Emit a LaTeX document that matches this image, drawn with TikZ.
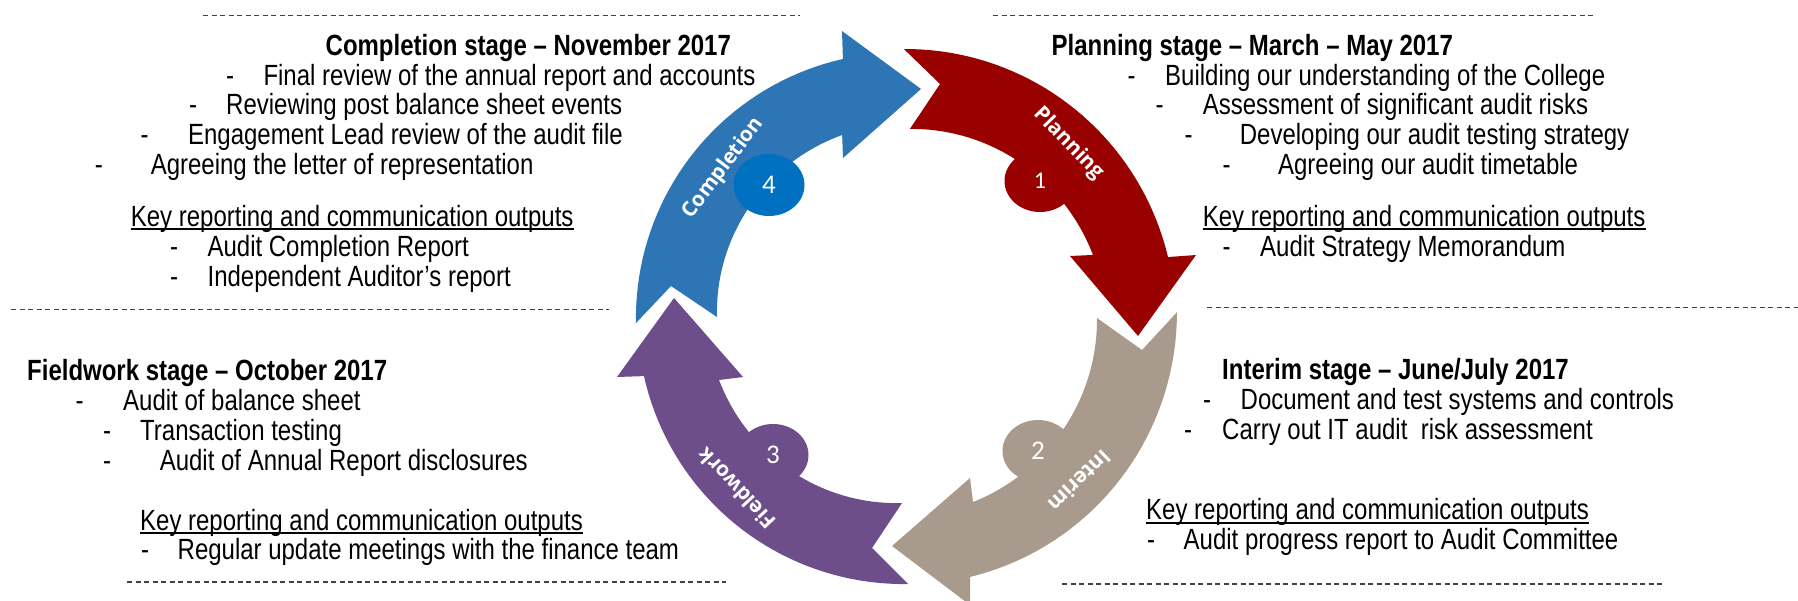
\documentclass[tikz,border=0pt]{standalone}
\usepackage{fontspec}
\usetikzlibrary{shapes.geometric}
\newfontfamily\nar{Liberation Sans}[FakeStretch=0.82]
\newfontfamily\lblf{Open Sans}
\newfontfamily\numf{Carlito}
\definecolor{cblue}{HTML}{2E75B6}
\definecolor{cred}{HTML}{990000}
\definecolor{cgray}{HTML}{A89B8D}
\definecolor{cpurp}{HTML}{6D4E8B}
\definecolor{cnum}{HTML}{0070C0}
% ring edge: from angle #1 (radius #2) to angle #3 (radius #4), centre (902,317) in screen px
\newcommand\ringedge[4]{-- plot[domain=#1:#3,samples=40,variable=\tval] ({902+((#2)+(\tval-(#1))/((#3)-(#1))*((#4)-(#2)))*cos(\tval)},{317-((#2)+(\tval-(#1))/((#3)-(#1))*((#4)-(#2)))*sin(\tval)})}
\tikzset{
  txt/.style={anchor=base west, inner sep=0pt, font=\nar\fontsize{29.25}{30}\selectfont},
  hd/.style={anchor=base west, inner sep=0pt, font=\nar\bfseries\fontsize{29.25}{30}\selectfont},
  sep/.style={draw=black!75, line width=1.2pt, dash pattern=on 5pt off 3.5pt},
  uline/.style={line width=1.8pt},
  lbl/.style={inner sep=0pt, text=white, font=\lblf\bfseries\fontsize{20.8}{21}\selectfont},
  numc/.style={ellipse, inner sep=0pt, minimum width=71pt, minimum height=62pt, text=white, font=\numf\fontsize{27}{27}\selectfont},
}
\begin{document}
\begin{tikzpicture}[x=1pt,y=-1pt]
\useasboundingbox (0,0) rectangle (1798,600);
\fill[white] (0,0) rectangle (1798,600);

% separators
\draw[sep] (203,15.5) -- (799.6,15.5);
\draw[sep] (993,15.5) -- (1593,15.5);
\draw[sep] (11,309.5) -- (609,309.5);
\draw[sep] (1207,307.5) -- (1798,307.5);
\draw[sep] (127,582) -- (726,582);
\draw[sep] (1062,584) -- (1663,584);

% Completion block
\node[hd] (ch) at (325.5,55) {Completion stage – November 2017};
\node[txt] (cd1) at (226,85) {-};
\node[txt] (ct1) at (263.3,85) {Final review of the annual report and accounts};
\node[txt] (cd2) at (188.8,114.5) {-};
\node[txt] (ct2) at (226,114.5) {Reviewing post balance sheet events};
\node[txt] (cd3) at (140.3,144.5) {-};
\node[txt] (ct3) at (187.9,144.5) {Engagement Lead review of the audit file};
\node[txt] (cd4) at (94.7,174) {-};
\node[txt] (ct4) at (150.6,174) {Agreeing the letter of representation};
\node[txt] (ck) at (130.7,226) {Key reporting and communication outputs};
\draw[uline] ([yshift=-3.2pt]ck.base west) -- ([yshift=-3.2pt]ck.base east);
\node[txt] (cd5) at (170,256) {-};
\node[txt] (ct5) at (207.4,256) {Audit Completion Report};
\node[txt] (cd6) at (170,286) {-};
\node[txt] (ct6) at (207.4,286) {Independent Auditor’s report};

% Planning block
\node[hd] (ph) at (1051.5,55) {Planning stage – March – May 2017};
\node[txt] (pd1) at (1127.3,85) {-};
\node[txt] (pt1) at (1165,85) {Building our understanding of the College};
\node[txt] (pd2) at (1155.3,114.5) {-};
\node[txt] (pt2) at (1202.6,114.5) {Assessment of significant audit risks};
\node[txt] (pd3) at (1184.3,144.5) {-};
\node[txt] (pt3) at (1239.7,144.5) {Developing our audit testing strategy};
\node[txt] (pd4) at (1222.5,174) {-};
\node[txt] (pt4) at (1277.9,174) {Agreeing our audit timetable};
\node[txt] (pk) at (1202.6,226) {Key reporting and communication outputs};
\draw[uline] ([yshift=-3.2pt]pk.base west) -- ([yshift=-3.2pt]pk.base east);
\node[txt] (pd5) at (1222.5,256) {-};
\node[txt] (pt5) at (1260,256) {Audit Strategy Memorandum};

% Fieldwork block
\node[hd] (fh) at (27,380.5) {Fieldwork stage – October 2017};
\node[txt] (fd1) at (75.5,410) {-};
\node[txt] (ft1) at (123,410) {Audit of balance sheet};
\node[txt] (fd2) at (103,440) {-};
\node[txt] (ft2) at (140,440) {Transaction testing};
\node[txt] (fd3) at (103,470) {-};
\node[txt] (ft3) at (159.6,470) {Audit of Annual Report disclosures};
\node[txt] (fk) at (140,530) {Key reporting and communication outputs};
\draw[uline] ([yshift=-3.2pt]fk.base west) -- ([yshift=-3.2pt]fk.base east);
\node[txt] (fd4) at (141,559.5) {-};
\node[txt] (ft4) at (177.5,559.5) {Regular update meetings with the finance team};

% Interim block
\node[hd] (ih) at (1222,379) {Interim stage – June/July 2017};
\node[txt] (id1) at (1203,409.5) {-};
\node[txt] (it1) at (1240.5,409.5) {Document and test systems and controls};
\node[txt] (id2) at (1184,439.5) {-};
\node[txt] (it2) at (1222,439.5) {Carry out IT audit~ risk assessment};
\node[txt] (ik) at (1146,519.5) {Key reporting and communication outputs};
\draw[uline] ([yshift=-3.2pt]ik.base west) -- ([yshift=-3.2pt]ik.base east);
\node[txt] (id3) at (1147,549) {-};
\node[txt] (it3) at (1183.5,549) {Audit progress report to Audit Committee};

% cycle arrows
\fill[cblue] (671,286) \ringedge{181.3}{266.1}{102.9}{264.7} -- (842,31) -- (921,89) -- (843,158) \ringedge{108.2}{191.6}{180}{185} -- cycle;
\fill[cred] (940,84) \ringedge{89.6}{268}{12.7}{272.7} -- (1196,255) -- (1138,336) -- (1070,256) \ringedge{18.0}{200.8}{87.6}{188.2} -- cycle;
\fill[cgray] (1142,350) \ringedge{1.0}{275}{-75.3}{268.7} -- (970,605) -- (892,546) -- (970,478) \ringedge{-69.0}{198.2}{-0.3}{195} -- cycle;
\fill[cpurp] (872,548) \ringedge{-88.7}{267.1}{-167.1}{264.7} -- (617,377) -- (674,298) -- (743,377) \ringedge{-161.0}{193.5}{-90}{186} -- cycle;

% number discs
\node[numc, fill=cnum] (n4) at (769,185) {4};
\node[numc, fill=cred, font=\numf\fontsize{24}{24}\selectfont] (n1) at (1040,181) {1};
\node[numc, fill=cgray] (n2) at (1038,451) {2};
\node[numc, fill=cpurp] (n3) at (773,455) {3};

% arrow labels
\node[lbl, rotate=53] (lc) at (723.3,168.3) {Completion};
\node[lbl, rotate=-46] (lp) at (1068.4,143.7) {Planning};
\node[lbl, rotate=224] (li) at (1080,481) {Interim};
\node[lbl, rotate=133] (lf) at (736.4,488.5) {Fieldwork};
\end{tikzpicture}
\end{document}
